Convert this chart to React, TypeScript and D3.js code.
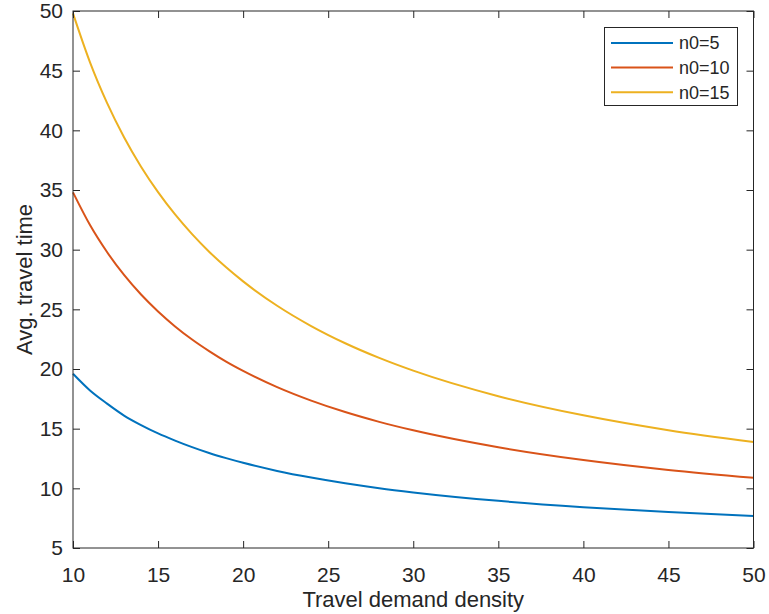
import { useRef, useEffect } from "react";
import * as d3 from "d3";

// travel demand density samples
const density = [10, 11, 12, 13, 14, 15, 16, 17, 18, 19, 20, 22, 24, 26, 28, 30, 35, 40, 45, 50];

// avg. travel time, one list per n0
const timeN5 = [19.6, 18.2, 17.1, 16.1, 15.3, 14.6, 14.0, 13.45, 12.96, 12.53, 12.14, 11.46, 10.9, 10.42, 10.01, 9.66, 8.95, 8.42, 8.01, 7.68];
const timeN10 = [34.8, 32.06, 29.8, 27.88, 26.24, 24.82, 23.57, 22.47, 21.5, 20.62, 19.84, 18.48, 17.35, 16.39, 15.57, 14.86, 13.44, 12.37, 11.54, 10.88];
const timeN15 = [49.8, 45.7, 42.3, 39.42, 36.95, 34.82, 32.95, 31.3, 29.83, 28.52, 27.34, 25.3, 23.6, 22.16, 20.93, 19.86, 17.72, 16.12, 14.87, 13.88];

const seriesNames = ["n0=5", "n0=10", "n0=15"];
const seriesColors = ["#0072BD", "#D95319", "#EDB120"];

const xTicks = [10, 15, 20, 25, 30, 35, 40, 45, 50];
const yTicks = [5, 10, 15, 20, 25, 30, 35, 40, 45, 50];

const W = 769;
const H = 614;
const left = 73;
const right = 753.5;
const top = 11;
const bottom = 548;
const axisColor = "#262626";
const font = "'Liberation Sans', Arial, Helvetica, sans-serif";

export default function App() {
  const svgRef = useRef<SVGSVGElement>(null);

  useEffect(() => {
    const svg = d3.select(svgRef.current);
    svg.selectAll("*").remove();

    const x = d3.scaleLinear().domain([10, 50]).range([left, right]);
    const y = d3.scaleLinear().domain([5, 50]).range([bottom, top]);

    // lines first, then the box on top
    const line = d3
      .line<number>()
      .x((_, i) => x(density[i]))
      .y((v) => y(v))
      .curve(d3.curveMonotoneX);

    const allSeries = [timeN5, timeN10, timeN15];
    svg
      .append("g")
      .selectAll("path")
      .data(allSeries)
      .join("path")
      .attr("d", (s) => line(s))
      .attr("fill", "none")
      .attr("stroke", (_, i) => seriesColors[i])
      .attr("stroke-width", 2);

    //// axes (MATLAB style, ticks pointing in) ////
    const styleAxis = (g: any) => {
      g.select(".domain").remove();
      g.selectAll(".tick line").attr("stroke", axisColor);
      g.selectAll(".tick text")
        .attr("fill", axisColor)
        .attr("font-family", font)
        .attr("font-size", 21);
    };

    svg
      .append("g")
      .attr("transform", `translate(0,${bottom})`)
      .call(d3.axisBottom(x).tickValues(xTicks).tickSize(-7).tickPadding(19))
      .call(styleAxis);
    svg
      .append("g")
      .attr("transform", `translate(0,${top})`)
      .call(d3.axisTop(x).tickValues(xTicks).tickSize(-7).tickFormat(() => ""))
      .call(styleAxis);
    svg
      .append("g")
      .attr("transform", `translate(${left},0)`)
      .call(d3.axisLeft(y).tickValues(yTicks).tickSize(-7).tickPadding(10))
      .call(styleAxis);
    svg
      .append("g")
      .attr("transform", `translate(${right},0)`)
      .call(d3.axisRight(y).tickValues(yTicks).tickSize(-7).tickFormat(() => ""))
      .call(styleAxis);

    svg
      .append("rect")
      .attr("x", left)
      .attr("y", top)
      .attr("width", right - left)
      .attr("height", bottom - top)
      .attr("fill", "none")
      .attr("stroke", axisColor)
      .attr("stroke-width", 1);

    // axis labels
    svg
      .append("text")
      .attr("x", (left + right) / 2)
      .attr("y", 607)
      .attr("text-anchor", "middle")
      .attr("font-family", font)
      .attr("font-size", 22)
      .attr("fill", axisColor)
      .text("Travel demand density");
    svg
      .append("text")
      .attr("transform", `translate(32,${(top + bottom) / 2}) rotate(-90)`)
      .attr("text-anchor", "middle")
      .attr("font-family", font)
      .attr("font-size", 22)
      .attr("fill", axisColor)
      .text("Avg. travel time");

    //// legend ////
    const legend = svg.append("g");
    legend
      .append("rect")
      .attr("x", 604.5)
      .attr("y", 27.5)
      .attr("width", 133)
      .attr("height", 78)
      .attr("fill", "white")
      .attr("stroke", axisColor)
      .attr("stroke-width", 1);
    const rows = legend
      .selectAll("g.row")
      .data(seriesNames)
      .join("g")
      .attr("class", "row")
      .attr("transform", (_, i) => `translate(0,${43 + i * 24.6})`);
    rows
      .append("line")
      .attr("x1", 611)
      .attr("x2", 673)
      .attr("stroke", (_, i) => seriesColors[i])
      .attr("stroke-width", 2);
    rows
      .append("text")
      .attr("x", 679)
      .attr("dy", "0.35em")
      .attr("font-family", font)
      .attr("font-size", 18)
      .attr("fill", axisColor)
      .text((d) => d);
  }, []);

  return (
    <svg
      ref={svgRef}
      width={W}
      height={H}
      style={{ position: "absolute", left: 0, top: 0, background: "white" }}
    ></svg>
  );
}
